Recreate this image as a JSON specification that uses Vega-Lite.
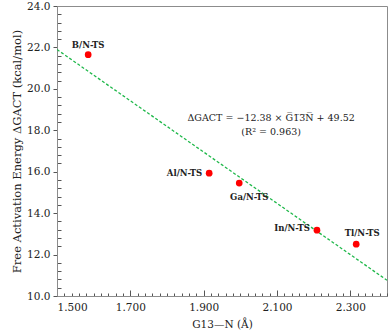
{
  "$schema": "https://vega.github.io/schema/vega-lite/v6.json",
  "width": 330,
  "height": 290,
  "autosize": "none",
  "padding": {"left": 57, "top": 6, "right": 3, "bottom": 37},
  "background": "white",
  "config": {
    "view": {"stroke": "#8c8c8c", "strokeWidth": 1},
    "font": "DejaVu Serif",
    "axis": {"labelFont": "DejaVu Serif", "titleFont": "DejaVu Serif", "labelColor": "#222", "titleColor": "#222", "titleFontWeight": "normal", "domainColor": "#8c8c8c", "tickColor": "#555", "grid": false, "labelOverlap": false, "labelFontSize": 10.5, "titleFontSize": 10.5}
  },
  "datasets": {
    "pts": [
      {"name": "B/N-TS", "x": 1.585, "y": 21.65},
      {"name": "Al/N-TS", "x": 1.915, "y": 15.93},
      {"name": "Ga/N-TS", "x": 1.997, "y": 15.45},
      {"name": "In/N-TS", "x": 2.209, "y": 13.18},
      {"name": "Tl/N-TS", "x": 2.316, "y": 12.5}
    ],
    "fit": [{"x": 1.5, "y": 21.9}, {"x": 2.4, "y": 10.76}],
    "eq": [
      {"text": "ΔGACT = −12.38 × G̅1̅3̅N̅ + 49.52", "x": 2.084, "y": 18.6},
      {"text": "(R² = 0.963)", "x": 2.084, "y": 17.92}
    ]
  },
  "layer": [
    {
      "data": {"name": "fit"},
      "mark": {"type": "line", "color": "#1fb84a", "strokeDash": [3, 2], "strokeWidth": 1.3, "clip": true},
      "encoding": {
        "x": {"field": "x", "type": "quantitative", "scale": {"domain": [1.5, 2.4], "nice": false, "zero": false},
          "title": "G13—N (Å)", "titlePadding": 1,
          "axis": {
            "values": [1.5,1.52,1.54,1.56,1.58,1.6,1.62,1.64,1.66,1.68,1.7,1.72,1.74,1.76,1.78,1.8,1.82,1.84,1.86,1.88,1.9,1.92,1.94,1.96,1.98,2.0,2.02,2.04,2.06,2.08,2.1,2.12,2.14,2.16,2.18,2.2,2.22,2.24,2.26,2.28,2.3,2.32,2.34,2.36,2.38,2.4],
            "tickCount": 200,
            "labelExpr": "round(datum.value*100) % 20 == 10 ? format(datum.value, '.3f') : ''",
            "labelOverlap": false,
            "labelBound": false,
            "tickSize": {"condition": {"test": "round(datum.value*100) % 20 == 10", "value": -6}, "value": -3},
            "labelPadding": 12
          }},
        "y": {"field": "y", "type": "quantitative", "scale": {"domain": [10, 24], "nice": false, "zero": false},
          "title": "Free Activation Energy ΔGACT (kcal/mol)", "titlePadding": 5, "axis": {
            "titleFontSize": 11.5,
            "values": [10,10.4,10.8,11.2,11.6,12,12.4,12.8,13.2,13.6,14,14.4,14.8,15.2,15.6,16,16.4,16.8,17.2,17.6,18,18.4,18.8,19.2,19.6,20,20.4,20.8,21.2,21.6,22,22.4,22.8,23.2,23.6,24],
            "tickCount": 200,
            "labelExpr": "round(datum.value*10) % 20 == 0 ? format(datum.value, '.1f') : ''",
            "labelOverlap": false,
            "labelBound": false,
            "tickSize": {"condition": {"test": "round(datum.value*10) % 20 == 0", "value": 4}, "value": -4},
            "labelPadding": 3
          }}
      }
    },
    {
      "data": {"name": "pts"},
      "mark": {"type": "point", "filled": true, "color": "#ff0000", "opacity": 1, "size": 45},
      "encoding": {"x": {"field": "x", "type": "quantitative"}, "y": {"field": "y", "type": "quantitative"}}
    },
    {
      "data": {"name": "pts"},
      "transform": [{"filter": "datum.name == 'B/N-TS'"}],
      "mark": {"type": "text", "fontWeight": "bold", "fontSize": 8.5, "dy": -10, "color": "#222"},
      "encoding": {"x": {"field": "x", "type": "quantitative"}, "y": {"field": "y", "type": "quantitative"}, "text": {"field": "name"}}
    },
    {
      "data": {"name": "pts"},
      "transform": [{"filter": "datum.name == 'Al/N-TS'"}],
      "mark": {"type": "text", "fontWeight": "bold", "fontSize": 8.5, "align": "right", "dx": -7, "color": "#222"},
      "encoding": {"x": {"field": "x", "type": "quantitative"}, "y": {"field": "y", "type": "quantitative"}, "text": {"field": "name"}}
    },
    {
      "data": {"name": "pts"},
      "transform": [{"filter": "datum.name == 'Ga/N-TS'"}],
      "mark": {"type": "text", "fontWeight": "bold", "fontSize": 8.5, "dx": 10, "dy": 14, "color": "#222"},
      "encoding": {"x": {"field": "x", "type": "quantitative"}, "y": {"field": "y", "type": "quantitative"}, "text": {"field": "name"}}
    },
    {
      "data": {"name": "pts"},
      "transform": [{"filter": "datum.name == 'In/N-TS'"}],
      "mark": {"type": "text", "fontWeight": "bold", "fontSize": 8.5, "align": "right", "dx": -7, "dy": -2, "color": "#222"},
      "encoding": {"x": {"field": "x", "type": "quantitative"}, "y": {"field": "y", "type": "quantitative"}, "text": {"field": "name"}}
    },
    {
      "data": {"name": "pts"},
      "transform": [{"filter": "datum.name == 'Tl/N-TS'"}],
      "mark": {"type": "text", "fontWeight": "bold", "fontSize": 8.5, "dx": 6, "dy": -11, "color": "#222"},
      "encoding": {"x": {"field": "x", "type": "quantitative"}, "y": {"field": "y", "type": "quantitative"}, "text": {"field": "name"}}
    },
    {
      "data": {"name": "eq"},
      "mark": {"type": "text", "fontSize": 9.5, "color": "#222"},
      "encoding": {"x": {"field": "x", "type": "quantitative"}, "y": {"field": "y", "type": "quantitative"}, "text": {"field": "text"}}
    }
  ]
}
